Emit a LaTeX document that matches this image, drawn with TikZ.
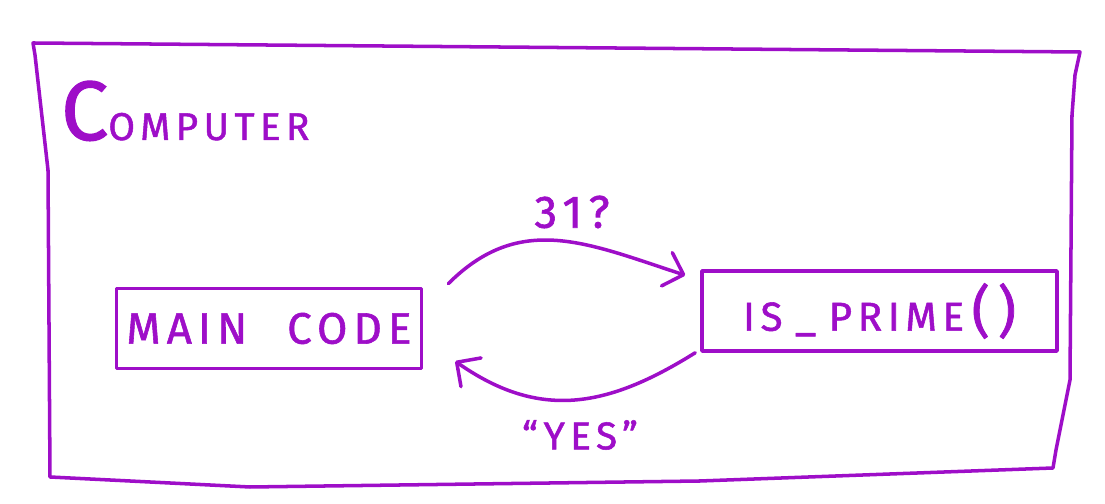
\documentclass[tikz,border=0pt]{standalone}
\usepackage{fontspec}
\setmainfont{Fira Sans}
\newfontfamily\hand[LetterSpace=14,FakeBold=1.3]{Fira Sans}
\usetikzlibrary{positioning,arrows.meta,calc}
\definecolor{marker}{RGB}{158,14,200}
\tikzset{
  pen/.style={draw=marker,line width=2pt,line cap=round,line join=round},
  codebox/.style={pen,rectangle,minimum height=1.6cm,inner sep=0pt,
    text=marker,font=\hand\fontsize{25}{25}\selectfont},
  flow/.style={pen,-{Straight Barb[length=3.5mm,width=7mm,round]}}, % call arrow
  lbl/.style={text=marker,inner sep=1pt},
}

\begin{document}
\begin{tikzpicture}[scale=1.0]
  \useasboundingbox (0,0) rectangle (22.1,10.08);
  % outer frame, drawn by hand
  \draw[pen] (0.66,9.22) -- (21.6,9.04) -- (21.5,8.58) -- (21.44,7.78)
    -- (21.4,2.48) -- (21.12,1.08) -- (21.06,0.72) -- (14.0,0.46)
    -- (5.0,0.34) -- (1.0,0.54) -- (0.96,6.68) -- (0.7,8.98) -- cycle;
  \node[lbl,anchor=base west,font=\hand] (title) at (1.18,7.28)
    {\fontsize{48}{48}\selectfont C\fontsize{22}{22}\selectfont OMPUTER};
  % the two boxes
  \node[codebox,minimum width=6.1cm] (main) at (5.38,3.51) {MAIN\hspace{0.8cm}CODE};
  \node[codebox,minimum width=7.1cm,font=\hand\fontsize{23}{23}\selectfont]
    (prime) at (17.59,3.86)
    {IS\hspace{2.5mm}\_\hspace{2.5mm}PRIME\hspace{1.5mm}\fontsize{32}{32}\selectfont()};
  % question and answer
  \draw[flow] ([shift={(0.5,0.06)}]main.north east) to[out=45,in=162,looseness=1.1]
    ([shift={(-0.3,-0.12)}]prime.north west);
  \draw[flow] ([xshift=-1mm]prime.south west) to[out=212,in=-35,looseness=1.1]
    ([shift={(0.64,0.18)}]main.south east);
  \node[lbl,font=\hand\fontsize{26}{26}\selectfont] (ask) at (11.44,5.84) {31?};
  \node[lbl,font=\hand\fontsize{22}{22}\selectfont] (yes) at (11.6,1.38) {“YES”};
\end{tikzpicture}
\end{document}
